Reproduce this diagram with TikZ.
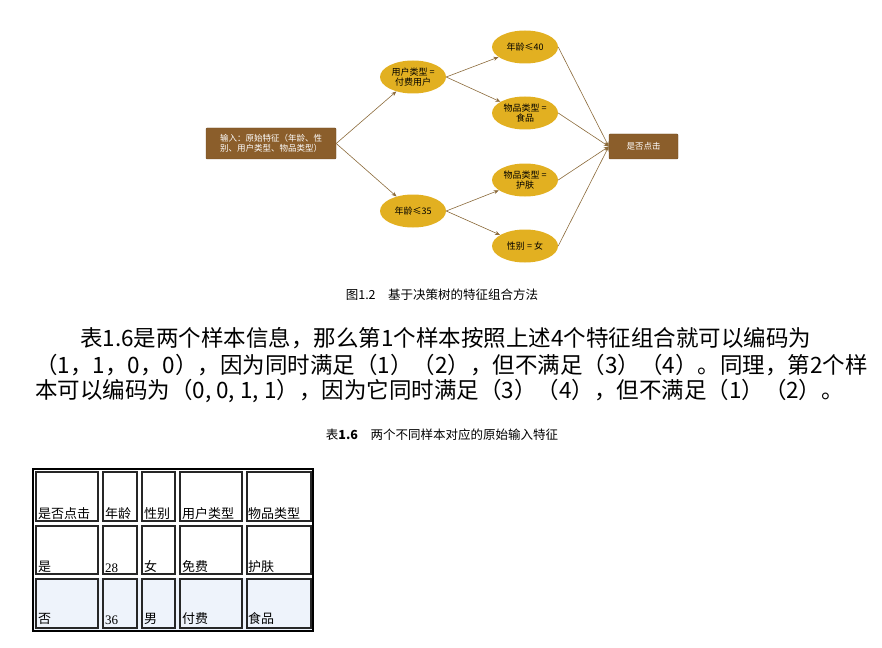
\documentclass[tikz,border=0pt]{standalone}
\usepackage{fontspec}
\setmainfont{Liberation Serif}
\newfontfamily\cjk{Noto Sans CJK SC}
\usetikzlibrary{arrows.meta,shapes.geometric}
\definecolor{brn}{HTML}{8B5E2B}
\definecolor{gld}{HTML}{E2B021}
\definecolor{lnk}{HTML}{8B6A3A}
\definecolor{lb}{HTML}{EEF3FB}
\begin{document}
\begin{tikzpicture}[x=1pt,y=-1pt,
  boxn/.style={fill=brn,draw=brn!80!black,rounded corners=1pt,text=white,font=\cjk\fontsize{8.5}{10}\selectfont,align=center,inner sep=2pt},
  ell/.style={ellipse,fill=gld,minimum width=66pt,minimum height=33pt,inner sep=0pt,align=center,font=\cjk\fontsize{9}{10.5}\selectfont},
  arr/.style={draw=lnk,line width=0.6pt,-{Stealth[length=5pt,width=4pt]}},
  cell/.style={font=\cjk\fontsize{13}{15}\selectfont,anchor=south west,inner sep=1pt},
  ln/.style={anchor=west,font=\cjk\fontsize{22.5}{24}\selectfont,inner sep=0pt}]
\useasboundingbox (0,0) rectangle (882,647);
\node[boxn,minimum width=130pt,minimum height=31pt] (in) at (271,143.5) {输入：原始特征（年龄、性\\别、用户类型、物品类型）};
\node[boxn,minimum width=69pt,minimum height=25pt] (out) at (643.5,146.5) {是否点击};
\node[ell] (u) at (413,77) {用户类型 =\\付费用户};
\node[ell] (a) at (413,211) {年龄≤35};
\node[ell] (r1) at (525,47) {年龄≤40};
\node[ell] (r2) at (525,113) {物品类型 =\\食品};
\node[ell] (r3) at (525,180) {物品类型 =\\护肤};
\node[ell] (r4) at (525,246) {性别 = 女};
\draw[arr] (in.east) -- (u);
\draw[arr] (in.east) -- (a);
\draw[arr] (u.east) -- (r1); \draw[arr] (u.east) -- (r2);
\draw[arr] (a.east) -- (r3); \draw[arr] (a.east) -- (r4);
\foreach \n in {r1,r2,r3,r4} \draw[arr] (\n.east) -- (out.west);
\node[font=\cjk\fontsize{12.5}{14}\selectfont] (c1) at (442,295) {图1.2\quad 基于决策树的特征组合方法};
\node[ln] (p1) at (80,338) {表1.6是两个样本信息，那么第1个样本按照上述4个特征组合就可以编码为};
\node[ln] (p2) at (35,365) {（1，1，0，0），因为同时满足（1）（2），但不满足（3）（4）。同理，第2个样};
\node[ln] (p3) at (35,391) {本可以编码为（0, 0, 1, 1），因为它同时满足（3）（4），但不满足（1）（2）。};
\node[font=\cjk\fontsize{12.5}{14}\selectfont] (c2) at (442,435) {表\textbf{1.6}\quad 两个不同样本对应的原始输入特征};
% table
\fill[lb] (33,578) rectangle (313,630);
\draw[line width=2pt] (33,469) rectangle (313,631);
\foreach \xa/\xb in {33/100,100/139,139/177,177/244,244/313}
  \foreach \ya/\yb in {469/523,523/576,576/630}
    \draw[line width=1.3pt,draw=black!85] (\xa+3,\ya+3) rectangle (\xb-2,\yb-2);
\node[cell] (t11) at (37,521) {是否点击};
\node[cell] (t12) at (104,521) {年龄};
\node[cell] (t13) at (143,521) {性别};
\node[cell] (t14) at (181,521) {用户类型};
\node[cell] (t15) at (247,521) {物品类型};
\node[cell] (t21) at (37,574) {是};
\node[cell,font=\fontsize{13}{15}\selectfont] (t22) at (104,574) {28};
\node[cell] (t23) at (143,574) {女};
\node[cell] (t24) at (181,574) {免费};
\node[cell] (t25) at (247,574) {护肤};
\node[cell] (t31) at (37,626) {否};
\node[cell,font=\fontsize{13}{15}\selectfont] (t32) at (104,626) {36};
\node[cell] (t33) at (143,626) {男};
\node[cell] (t34) at (181,626) {付费};
\node[cell] (t35) at (247,626) {食品};
\end{tikzpicture}
\end{document}
